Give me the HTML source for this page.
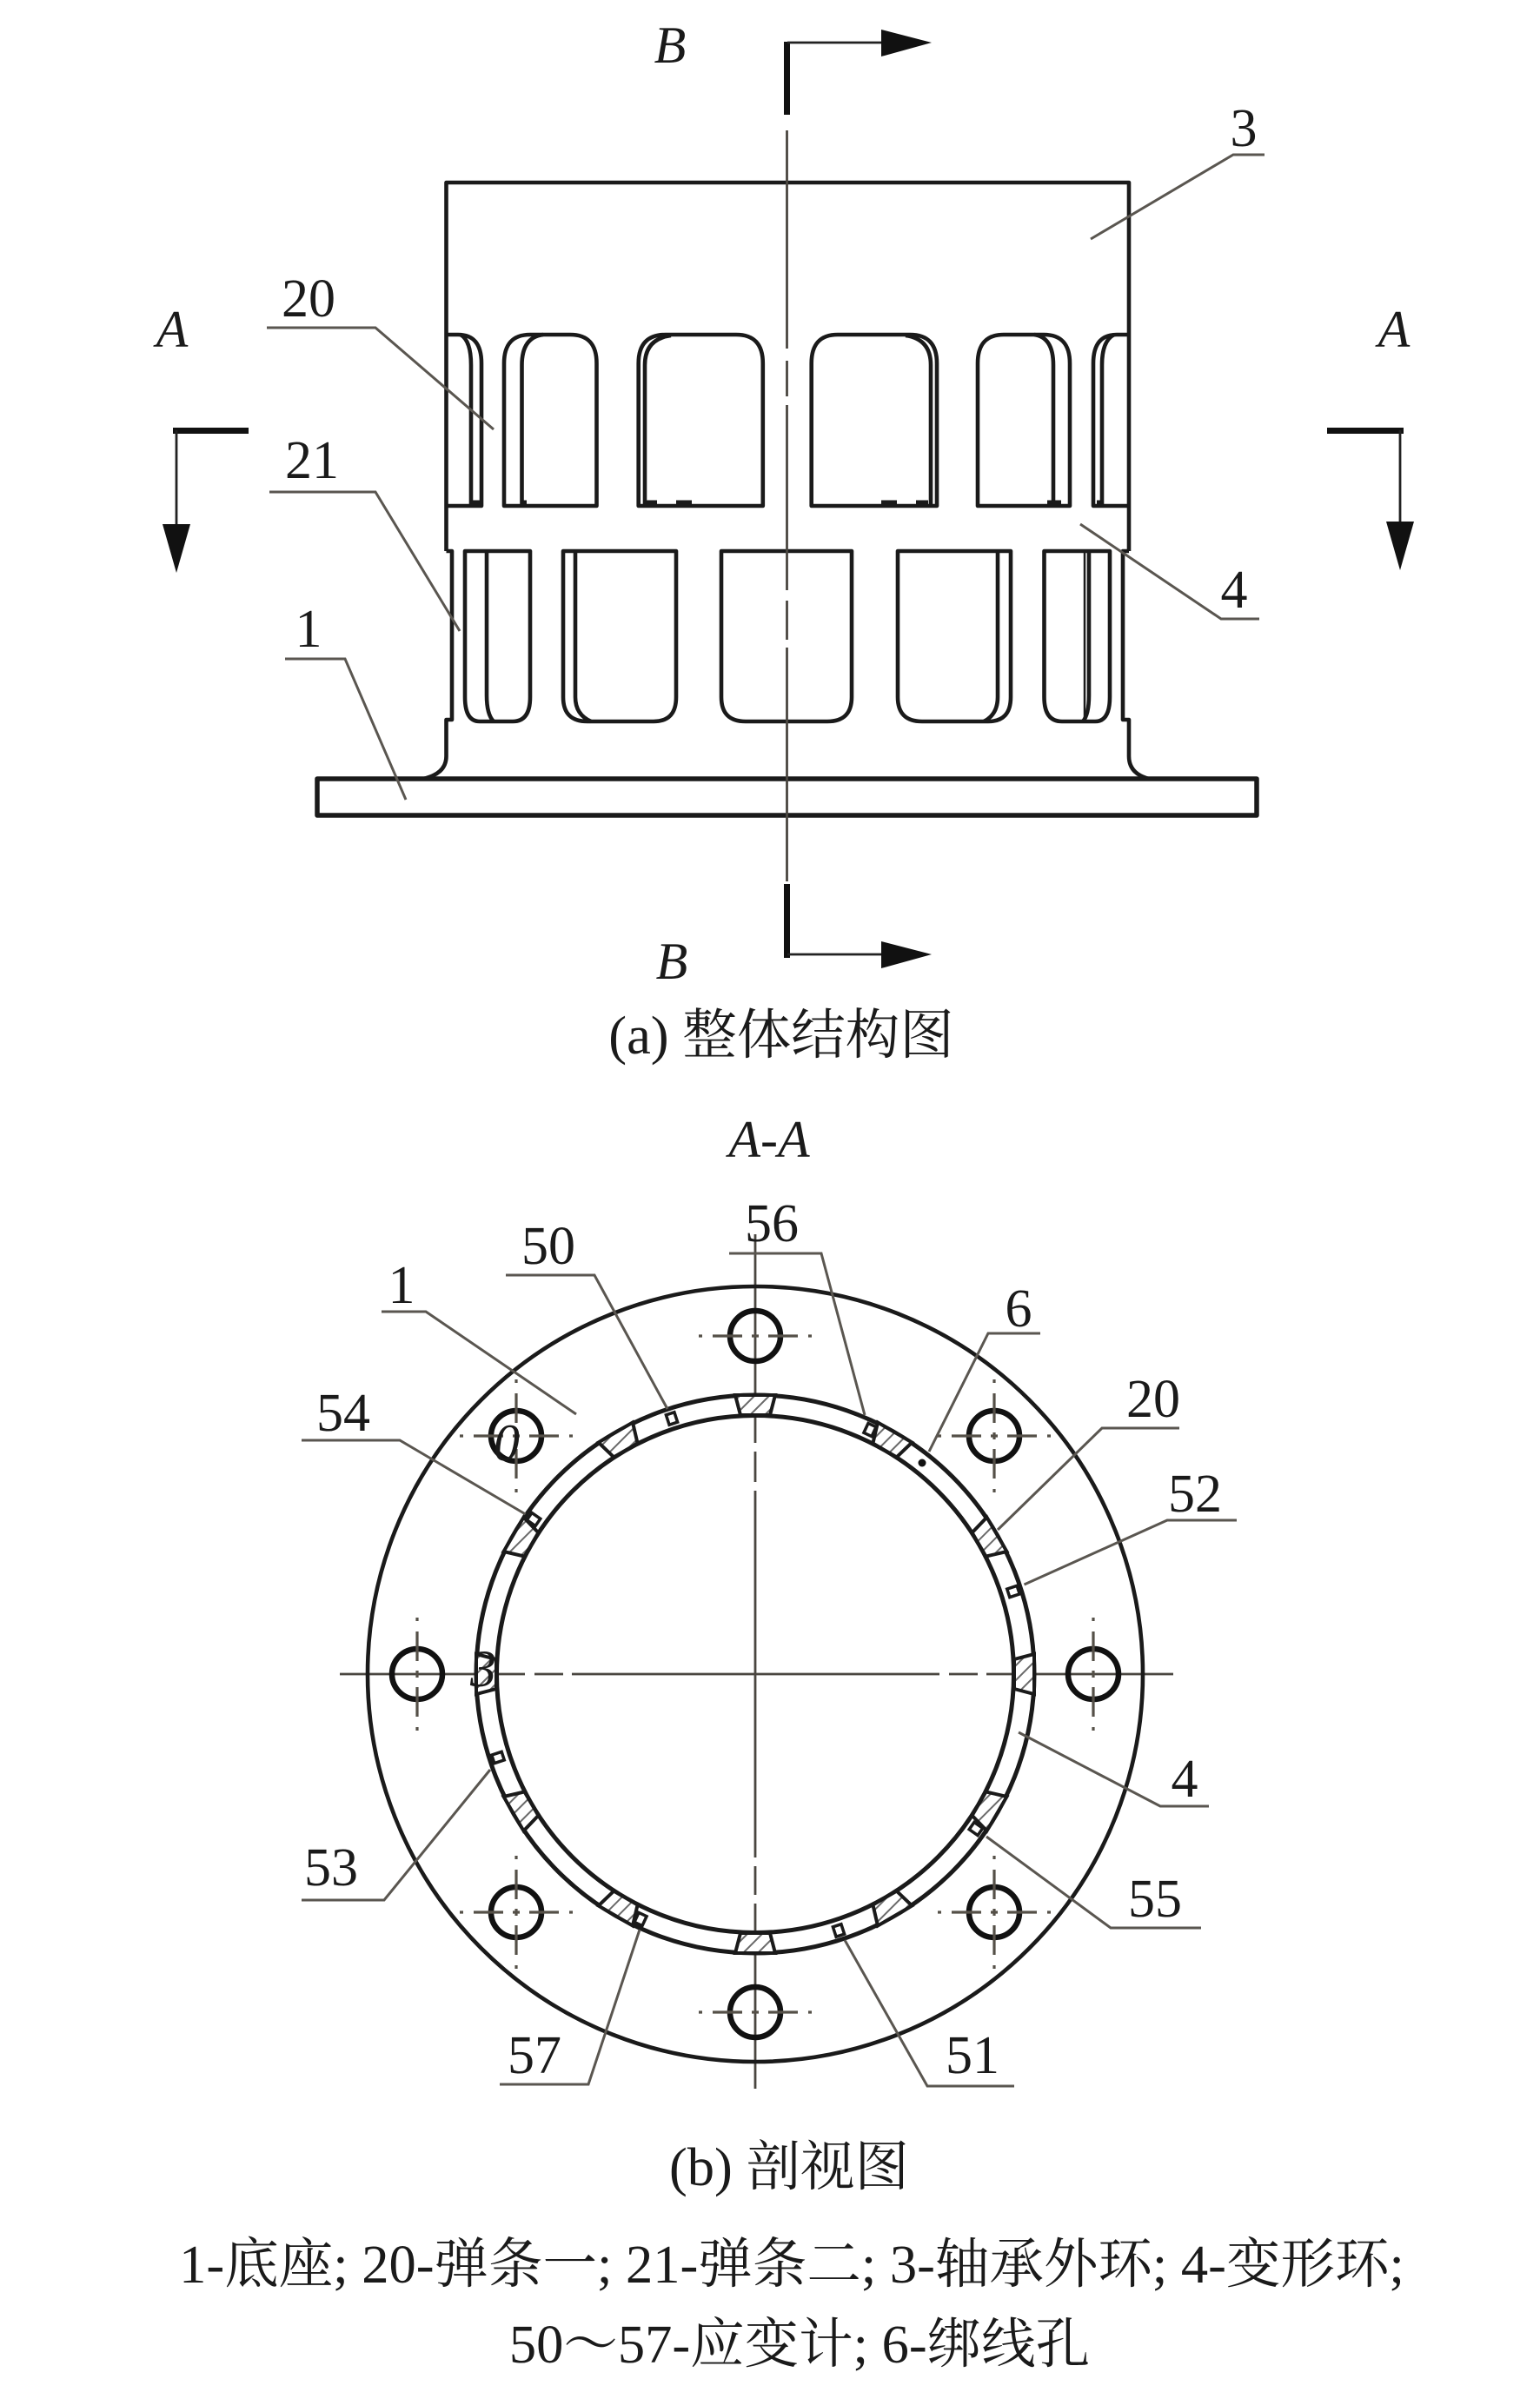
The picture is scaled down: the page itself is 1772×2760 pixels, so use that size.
<!DOCTYPE html>
<html><head><meta charset="utf-8"><style>
html,body{margin:0;padding:0;background:#fff}
svg{display:block}
text{font-family:"Liberation Serif","Noto Serif CJK SC",serif;fill:#1a1a1a}
.n{font-size:62px;text-anchor:middle}
.i{font-size:60px;text-anchor:middle;font-style:italic}
.c{font-size:62.5px;text-anchor:middle}
.m{fill:none;stroke:#1a1a1a;stroke-width:4.6;stroke-linejoin:round}
.l{fill:none;stroke:#5a5650;stroke-width:3}
.t{fill:none;stroke:#4a4640;stroke-width:2.8}
</style></head><body>
<svg width="1772" height="2760" viewBox="0 0 1772 2760" xmlns="http://www.w3.org/2000/svg">
<defs>
<pattern id="hatch" width="12" height="12" patternUnits="userSpaceOnUse" patternTransform="rotate(45)"><rect width="12" height="12" fill="#fff"/><line x1="0" y1="0" x2="0" y2="12" stroke="#6a6a6a" stroke-width="4"/></pattern>
</defs>
<rect width="1772" height="2760" fill="#fff"/>

<!-- top view -->
<path class="m" d="M513.5 634V210H1299V634"/>
<path class="m" d="M513.5 634H520V828H513.5V870Q513.5 890 487 896"/>
<path class="m" d="M1299 634H1292V828H1299V870Q1299 890 1322 896"/>
<rect class="m" x="365" y="896" width="1081" height="42" style="stroke-width:5.5"/>
<!-- upper windows -->
<path class="m" d="M513.5 385H527Q554 385 554 418V582H513.5"/><path class="m" d="M542 582V420Q542 392 530 385"/>
<path class="m" d="M580 582V418Q580 385 610 385H656Q686.5 385 686.5 418V582Z"/><path class="m" d="M600.5 582V420Q600.5 388 625 385"/>
<path class="m" d="M734.7 582V418Q734.7 385 766 385H847Q877.8 385 877.8 418V582Z"/><path class="m" d="M742 582V420Q742 390 772 386"/>
<path class="m" d="M933.7 582V418Q933.7 385 964 385H1047Q1078 385 1078 418V582Z"/><path class="m" d="M1071 582V420Q1071 390 1042 386"/>
<path class="m" d="M1125 582V418Q1125 385 1155 385H1201Q1231 385 1231 418V582Z"/><path class="m" d="M1212 582V420Q1212 388 1190 385"/>
<path class="m" d="M1297 385H1285Q1258 385 1258 418V582H1297"/><path class="m" d="M1268 582V420Q1268 392 1282 385"/>
<path d="M742 578h14M778 578h18M1014 578h18M1054 578h14M540 578h14M600 578h6M1205 578h16M1262 578h6" stroke="#1a1a1a" stroke-width="5" fill="none"/>
<!-- lower windows -->
<path class="m" d="M535 634H610V802Q610 830 590 830H552Q535 830 535 802Z"/><path class="m" d="M560 634V800Q560 822 568 830"/>
<path class="m" d="M648 634H778V802Q778 830 752 830H676Q648 830 648 802Z"/><path class="m" d="M662 634V802Q662 822 680 830"/>
<path class="m" d="M830 634H980V802Q980 830 952 830H858Q830 830 830 802Z"/>
<path class="m" d="M1033 634H1163V802Q1163 830 1137 830H1061Q1033 830 1033 802Z"/><path class="m" d="M1148 634V802Q1148 822 1132 830"/>
<path class="m" d="M1201.5 634H1277V802Q1277 830 1260 830H1222Q1201.5 830 1201.5 802Z"/><path class="m" d="M1253 634V800Q1253 822 1246 830"/><path class="m" d="M1248 634V830" style="stroke-width:2.5"/>
<!-- centre line -->
<path class="t" d="M905.5 150V401M905.5 415V456M905.5 466V679M905.5 691V736M905.5 745V1014"/>
<!-- section marks -->
<g fill="#111">
<rect x="902" y="48" width="7" height="84"/><rect x="902" y="1017" width="7" height="85"/>
<rect x="199" y="492" width="87" height="7"/><rect x="1527" y="492" width="88" height="7"/>
<path d="M1014 34L1072 49L1014 65Z"/><path d="M1014 1083L1072 1098L1014 1114Z"/>
<path d="M187 603L203 659L219 603Z"/><path d="M1595 600L1611 656L1627 600Z"/>
</g>
<path class="t" d="M906 49H1014M906 1098H1014M203 495V603M1611 495V600" style="stroke:#222"/>
<!-- leaders top -->
<path class="l" d="M1255 275L1419 178H1455"/>
<path class="l" d="M307 377H432L568 494"/>
<path class="l" d="M310 566H432L529 726"/>
<path class="l" d="M328 758H397L467 920"/>
<path class="l" d="M1243 603L1405 712H1449"/>
<!-- labels top -->
<text class="n" x="1431" y="168">3</text>
<text class="n" x="355" y="364">20</text>
<text class="n" x="359" y="550">21</text>
<text class="n" x="355" y="744">1</text>
<text class="n" x="1420" y="699">4</text>
<text class="i" x="771" y="72">B</text>
<text class="i" x="773" y="1126">B</text>
<text class="i" x="198" y="399">A</text>
<text class="i" x="1604" y="399">A</text>
<text class="c" x="899" y="1212">(a) 整体结构图</text>
<text class="i" x="885" y="1331">A-A</text>

<!-- section view -->
<path class="t" d="M391 1926H604M615 1926H648M658 1926H1081M1092 1926H1125M1135 1926H1350"/>
<path class="t" d="M869 1420V1660M869 1670V1705M869 1715V2137M869 2147V2180M869 2190V2403"/>
<circle class="m" cx="869" cy="1926" r="446"/>
<circle class="m" cx="869" cy="1926" r="321" style="stroke-width:5"/>
<circle class="m" cx="869" cy="1926" r="297.5" style="stroke-width:5"/>
<g transform="translate(869 1926)">
<g fill="url(#hatch)" stroke="#1a1a1a" stroke-width="4">
<polygon points="-23,-321 23,-321 17,-298 -17,-298"/>
<polygon points="-23,321 23,321 17,298 -17,298"/>
<polygon points="321,-23 321,23 298,17 298,-17"/>
<polygon points="-321,-23 -321,23 -298,17 -298,-17"/>
<polygon points="141,-289.5 180.4,-266.5 162.7,-249.6 135.4,-265.5"/>
<polygon points="-141,-289.5 -180.4,-266.5 -162.7,-249.6 -135.4,-265.5"/>
<polygon points="141,289.5 180.4,266.5 162.7,249.6 135.4,265.5"/>
<polygon points="-141,289.5 -180.4,266.5 -162.7,249.6 -135.4,265.5"/>
<polygon points="266.5,-180.4 289.5,-141 265.5,-135.4 249.6,-162.7"/>
<polygon points="-266.5,-180.4 -289.5,-141 -265.5,-135.4 -249.6,-162.7"/>
<polygon points="266.5,180.4 289.5,141 265.5,135.4 249.6,162.7"/>
<polygon points="-266.5,180.4 -289.5,141 -265.5,135.4 -249.6,162.7"/>
</g>
<g fill="#fff" stroke="#1a1a1a" stroke-width="3.5">
<rect x="-5" y="-6" width="10" height="12" transform="translate(-96 -294) rotate(-18)"/>
<rect x="-5" y="-6" width="10" height="12" transform="translate(132 -281) rotate(25)"/>
<rect x="-5" y="-6" width="10" height="12" transform="translate(-255 -178) rotate(-55)"/>
<rect x="-5" y="-6" width="10" height="12" transform="translate(297 -95) rotate(72)"/>
<rect x="-5" y="-6" width="10" height="12" transform="translate(-296 96) rotate(-108)"/>
<rect x="-5" y="-6" width="10" height="12" transform="translate(254 178) rotate(125)"/>
<rect x="-5" y="-6" width="10" height="12" transform="translate(96 295) rotate(162)"/>
<rect x="-5" y="-6" width="10" height="12" transform="translate(-132 282) rotate(205)"/>
</g>
<circle cx="192" cy="-243" r="4.5" fill="#111"/>
<!-- bolt holes -->
<g fill="none" stroke="#111" stroke-width="6.5">
<circle cx="0" cy="-389" r="29"/><circle cx="0" cy="389" r="29"/>
<circle cx="389" cy="0" r="29"/><circle cx="-389" cy="0" r="29"/>
<circle cx="275" cy="-274" r="29"/><circle cx="-275" cy="-274" r="29"/>
<circle cx="275" cy="274" r="29"/><circle cx="-275" cy="274" r="29"/>
</g>
<g fill="none" stroke="#555048" stroke-width="3.2" stroke-dasharray="4 12 34 11 8 11 34 12 4">
<path d="M210 -274H340M275 -339V-209M-340 -274H-210M-275 -339V-209"/>
<path d="M210 274H340M275 209V339M-340 274H-210M-275 209V339"/>
<path d="M-65 389H65M389 -65V65M-389 -65V65M-65 -389H65"/>
</g>
</g>
<!-- leaders section -->
<path class="l" d="M439 1509H490L663 1627"/>
<path class="l" d="M582 1467H684L768 1621"/>
<path class="l" d="M839 1442H945L995 1628"/>
<path class="l" d="M1069 1670L1137 1534H1197"/>
<path class="l" d="M1148 1760L1268 1643H1357"/>
<path class="l" d="M1178.5 1823L1343 1749H1423"/>
<path class="l" d="M1172 1993L1335 2078H1391"/>
<path class="l" d="M1135 2113L1278 2218H1382"/>
<path class="l" d="M347 2186H442L564 2036"/>
<path class="l" d="M347 1657H460L604.6 1742"/>
<path class="l" d="M575 2398H677L736 2220"/>
<path class="l" d="M972 2232L1067 2400H1167"/>
<!-- labels section -->
<text class="n" x="462" y="1499">1</text>
<text class="n" x="631" y="1454">50</text>
<text class="n" x="888" y="1428">56</text>
<text class="n" x="1172" y="1526">6</text>
<text class="n" x="1327" y="1630">20</text>
<text class="n" x="395" y="1646">54</text>
<text class="n" x="1375" y="1739">52</text>
<text class="n" x="1363" y="2067">4</text>
<text class="n" x="381" y="2169">53</text>
<text class="n" x="1329" y="2205">55</text>
<text class="n" x="615" y="2385">57</text>
<text class="n" x="1119" y="2385">51</text>
<text class="i" x="583" y="1680">0</text>
<text class="i" x="556" y="1940">3</text>
<text class="c" x="908" y="2514">(b) 剖视图</text>
<text class="c" x="911" y="2626">1-底座; 20-弹条一; 21-弹条二; 3-轴承外环; 4-变形环;</text>
<text class="c" x="920" y="2718">50～57-应变计; 6-绑线孔</text>
</svg>
</body></html>
